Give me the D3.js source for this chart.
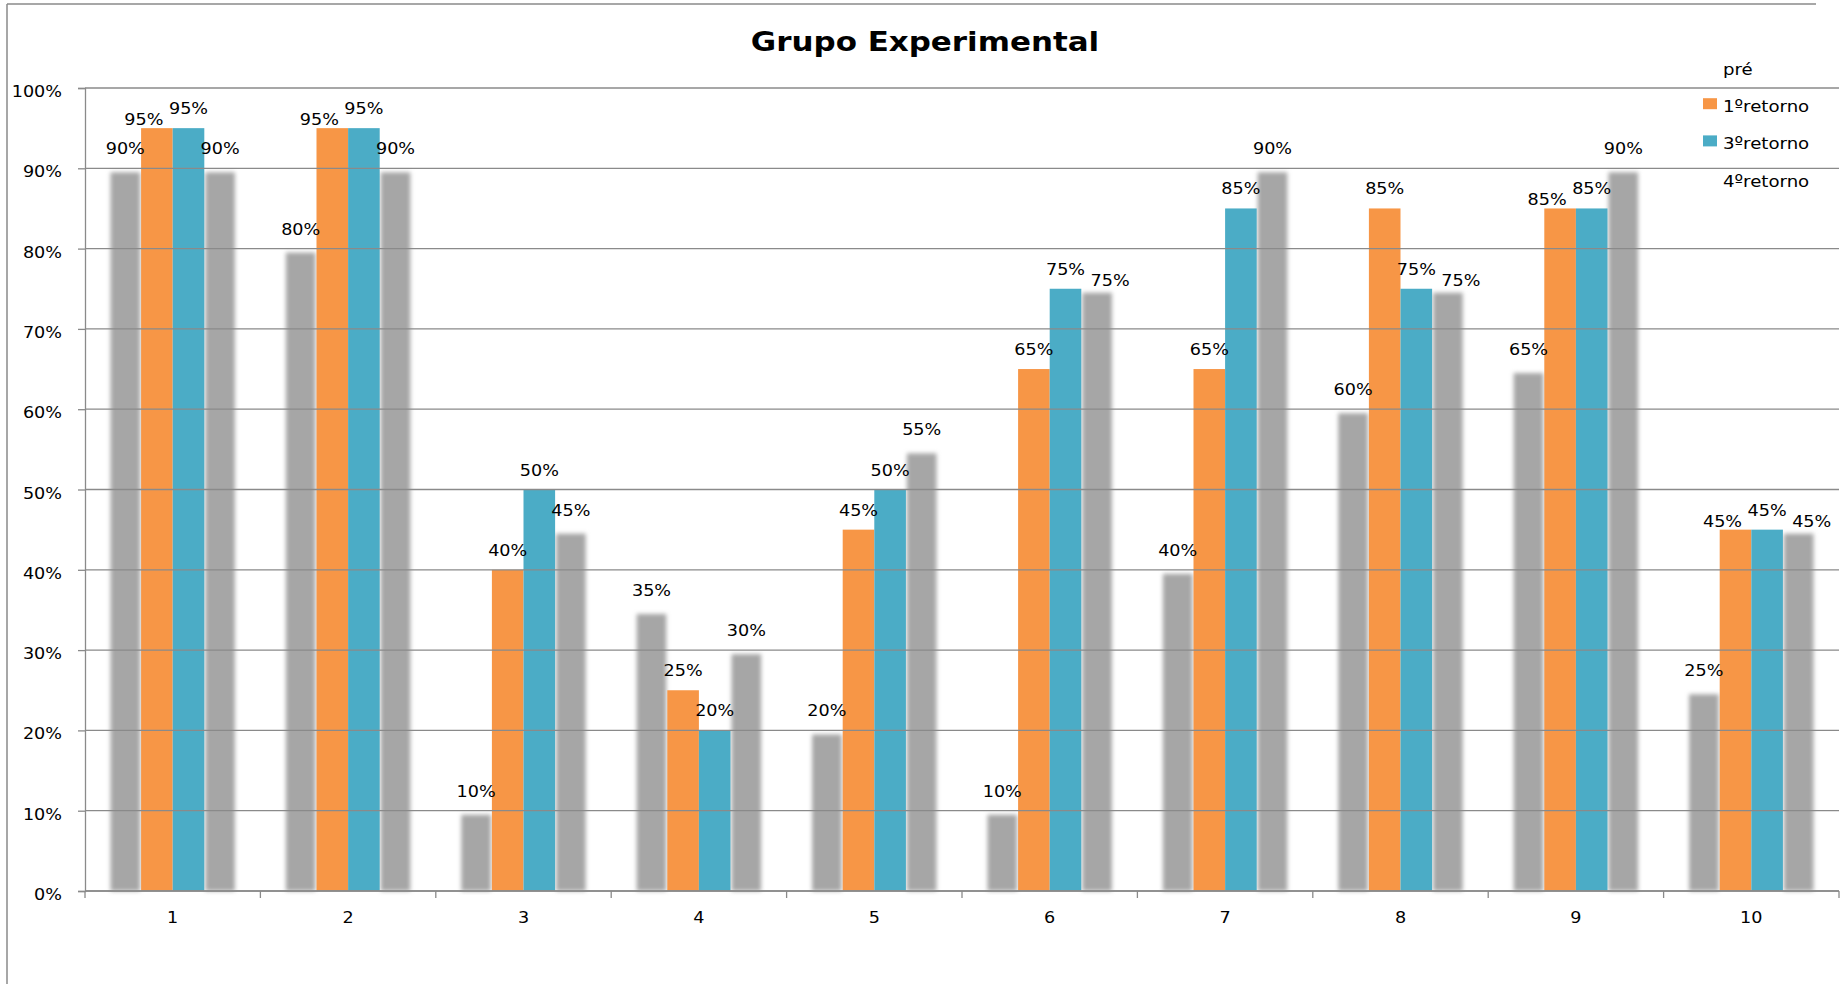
<!DOCTYPE html>
<html>
<head>
<meta charset="utf-8">
<script src="https://cdn.jsdelivr.net/npm/d3@7"></script>
<style>
  html, body { margin: 0; padding: 0; background: #ffffff; }
  svg { display: block; }
  text { font-family: "DejaVu Sans", Verdana, sans-serif; fill: #000; }
</style>
</head>
<body>
<svg id="chart" width="1840" height="984"></svg>
<script>
// ---- data ----
const title = "Grupo Experimental";
const categories = ["1", "2", "3", "4", "5", "6", "7", "8", "9", "10"];
const seriesNames = ["pré", "1ºretorno", "3ºretorno", "4ºretorno"];
const pre       = [0.90, 0.80, 0.10, 0.35, 0.20, 0.10, 0.40, 0.60, 0.65, 0.25];
const retorno1  = [0.95, 0.95, 0.40, 0.25, 0.45, 0.65, 0.65, 0.85, 0.85, 0.45];
const retorno3  = [0.95, 0.95, 0.50, 0.20, 0.50, 0.75, 0.85, 0.75, 0.85, 0.45];
const retorno4  = [0.90, 0.90, 0.45, 0.30, 0.55, 0.75, 0.90, 0.75, 0.90, 0.45];
const yTicks    = [0, 0.1, 0.2, 0.3, 0.4, 0.5, 0.6, 0.7, 0.8, 0.9, 1.0];

(function () {
// ---- styles ----
const seriesValues = [pre, retorno1, retorno3, retorno4];
const colors = { "pré": "#a6a6a6", "1ºretorno": "#f79646", "3ºretorno": "#4bacc6", "4ºretorno": "#a6a6a6" };
const soft = { "pré": true, "1ºretorno": false, "3ºretorno": false, "4ºretorno": true };
// direction a label moves when it collides with its neighbour's label
const nudgeDir = { "pré": -1, "1ºretorno": -1, "3ºretorno": 0, "4ºretorno": 1 };
const gridColor = "#8a8a8a";
const SX = 1.1; // horizontal text stretch

const svg = d3.select("#chart");
const defs = svg.append("defs");
defs.append("filter").attr("id", "softEdge")
  .attr("x", "-30%").attr("y", "-5%").attr("width", "160%").attr("height", "110%")
  .append("feGaussianBlur").attr("stdDeviation", 2.3);

const pLeft = 85, pRight = 1839, pTop = 88, pBottom = 891;

const x = d3.scaleBand().domain(categories).range([pLeft, pRight]).paddingInner(0).paddingOuter(0);
const x1 = d3.scaleBand().domain(seriesNames).range([0, x.bandwidth()]).paddingInner(0).paddingOuter(0.775);
const y = d3.scaleLinear().domain([0, 1]).range([pBottom, pTop]);

// outer frame (partial, as in reference)
svg.append("line").attr("x1", 7).attr("x2", 1816).attr("y1", 4).attr("y2", 4)
  .attr("stroke", gridColor).attr("stroke-width", 1.5);
svg.append("line").attr("x1", 7).attr("x2", 7).attr("y1", 4).attr("y2", 984)
  .attr("stroke", gridColor).attr("stroke-width", 1.5);

// title
svg.append("text")
  .attr("transform", `translate(925,51) scale(1.19,1)`)
  .attr("text-anchor", "middle")
  .style("font-weight", "bold").style("font-size", "26px")
  .text(title);

const rows = categories.map((c, i) => ({
  cat: c,
  vals: seriesNames.map((s, k) => ({ s, v: seriesValues[k][i], cat: c }))
}));

const groups = svg.append("g").selectAll("g").data(rows).join("g")
  .attr("transform", d => `translate(${x(d.cat)},0)`);

// soft (gray) bars first
groups.selectAll("rect.soft").data(d => d.vals.filter(e => soft[e.s])).join("rect")
  .attr("class", "soft")
  .attr("x", e => x1(e.s) + 1)
  .attr("y", e => y(e.v) + 4)
  .attr("width", x1.bandwidth() - 2)
  .attr("height", e => pBottom - y(e.v) - 4)
  .attr("fill", e => colors[e.s])
  .attr("filter", "url(#softEdge)");

// gridlines
svg.append("g").selectAll("line").data(yTicks).join("line")
  .attr("x1", pLeft).attr("x2", pRight)
  .attr("y1", d => y(d)).attr("y2", d => y(d))
  .attr("stroke", gridColor).attr("stroke-width", 1.3);

// solid bars
groups.selectAll("rect.solid").data(d => d.vals.filter(e => !soft[e.s])).join("rect")
  .attr("class", "solid")
  .attr("x", e => x1(e.s))
  .attr("y", e => y(e.v))
  .attr("width", x1.bandwidth())
  .attr("height", e => pBottom - y(e.v))
  .attr("fill", e => colors[e.s]);

// y axis
const yAxis = d3.axisLeft(y).tickValues(yTicks).tickSize(7).tickFormat(d3.format(".0%"));
const gy = svg.append("g").attr("transform", `translate(${pLeft},0)`).call(yAxis);
gy.select(".domain").attr("stroke", gridColor).attr("stroke-width", 1.3);
gy.selectAll(".tick line").attr("stroke", gridColor).attr("stroke-width", 1.3);
gy.selectAll(".tick text")
  .attr("x", null).attr("dy", null)
  .attr("transform", `translate(-23,8.5) scale(${SX},1)`)
  .attr("text-anchor", "end")
  .style("font-size", "16px").style("font-family", "DejaVu Sans").attr("fill", "#000");

// x axis with ticks at category boundaries
svg.append("line").attr("x1", pLeft).attr("x2", pRight).attr("y1", pBottom).attr("y2", pBottom)
  .attr("stroke", gridColor).attr("stroke-width", 1.3);
const bounds = categories.map(c => x(c)).concat([pRight]);
svg.append("g").selectAll("line").data(bounds).join("line")
  .attr("x1", d => d).attr("x2", d => d).attr("y1", pBottom).attr("y2", pBottom + 7)
  .attr("stroke", gridColor).attr("stroke-width", 1.3);
svg.append("g").selectAll("text").data(categories).join("text")
  .attr("transform", d => `translate(${x(d) + x.bandwidth() / 2},${pBottom + 32}) scale(${SX},1)`)
  .attr("text-anchor", "middle").style("font-size", "16px")
  .text(d => d);

// data labels; a label that collides with a neighbour's label moves outward and down
const fmt = d3.format(".0%");
const labelW = 39, labelH = 13;
rows.forEach(r => {
  const placed = r.vals.map(e => ({
    e,
    cx: x(r.cat) + x1(e.s) + x1.bandwidth() / 2,
    by: y(e.v) - 14
  }));
  const anchor = placed.find(p => nudgeDir[p.e.s] === 0);
  placed.forEach((p, i) => {
    if (nudgeDir[p.e.s] === 0) return;
    const nb = placed[i + (nudgeDir[p.e.s] < 0 ? 1 : -1)];
    if (nb && Math.abs(nb.by - p.by) < labelH && Math.abs(nb.cx - p.cx) < labelW) {
      p.cx += nudgeDir[p.e.s] * 13;
      p.by += 11;
    }
  });
  placed.forEach(p => {
    svg.append("text")
      .attr("transform", `translate(${p.cx},${p.by}) scale(${SX},1)`)
      .attr("text-anchor", "middle").style("font-size", "16px")
      .text(fmt(p.e.v));
  });
});

// legend
const legend = svg.append("g").selectAll("g").data(seriesNames).join("g")
  .attr("transform", (d, i) => `translate(1703,${75 + i * 37.2})`);
legend.filter(d => !soft[d]).append("rect")
  .attr("x", 0).attr("y", -14).attr("width", 14).attr("height", 11)
  .attr("fill", d => colors[d]);
legend.append("text")
  .attr("transform", `translate(20,0) scale(${SX},1)`)
  .style("font-size", "16.5px")
  .text(d => d);
})();
</script>
</body>
</html>
